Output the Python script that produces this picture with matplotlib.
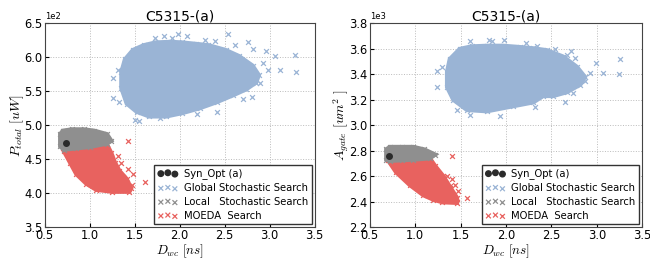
import matplotlib
matplotlib.use("Agg")
import matplotlib.pyplot as plt

plt.rcParams["mathtext.fontset"] = "cm"
plt.rcParams["font.family"] = ["DejaVu Sans"]

# ── colours ──────────────────────────────────────────────────────────────────
C_GLOBAL = "#9ab4d5"
C_LOCAL = "#8f8f8f"
C_MOEDA = "#e8625f"
C_OPT = "#2b2b2b"

LABELS = ["Syn_Opt (a)", "Global Stochastic Search",
          "Local   Stochastic Search", "MOEDA  Search"]

# ── left panel: power vs delay (outline of each dense cloud + loose points) ──
p_global_x = [1.39, 1.48, 1.60, 1.73, 1.90, 2.03, 2.18, 2.32, 2.51, 2.66,
              2.81, 2.88, 2.85, 2.74, 2.59, 2.41, 2.22, 2.03, 1.85, 1.66,
              1.52, 1.41, 1.35, 1.35]
p_global_y = [597, 611, 618, 622, 623, 622, 620, 618, 611, 602,
              588, 574, 563, 553, 544, 534, 525, 518, 513, 513,
              520, 532, 555, 578]
p_global_out_x = [1.72, 1.83, 1.91, 1.98, 2.08, 2.28, 2.39, 2.54, 2.61, 2.76,
                  2.81, 2.96, 3.06, 3.28, 3.11, 3.29, 2.98, 2.93, 2.89, 2.80,
                  2.70, 2.41, 2.19, 1.78, 1.50, 1.33, 1.26, 1.26, 1.31, 1.55]
p_global_out_y = [629, 631, 629, 634, 631, 625, 624, 635, 619, 623,
                  613, 609, 602, 603, 581, 578, 581, 592, 562, 541,
                  538, 520, 517, 510, 508, 534, 540, 570, 582, 506]

p_local_x = [0.67, 0.70, 0.80, 0.93, 1.05, 1.19, 1.24, 1.19, 1.00, 0.85,
             0.71, 0.67]
p_local_y = [487, 492, 494, 494, 492, 487, 477, 473, 468, 466,
             464, 469]

p_moeda_x = [0.70, 0.85, 1.00, 1.19, 1.24, 1.28, 1.33, 1.41, 1.46, 1.44,
             1.25, 1.07, 0.96, 0.85, 0.78, 0.71]
p_moeda_y = [466, 468, 469, 472, 459, 445, 433, 421, 407, 402,
             402, 405, 414, 428, 445, 462]
p_moeda_out_x = [1.43, 1.61, 1.31, 1.35, 1.43, 1.48, 1.37, 1.39, 1.30, 1.47]
p_moeda_out_y = [477, 417, 454, 445, 435, 428, 424, 414, 438, 412]

p_opt_x = [0.73]
p_opt_y = [474]

# ── right panel: gate area vs delay ──────────────────────────────────────────
a_global_x = [1.38, 1.49, 1.62, 1.79, 1.97, 2.15, 2.30, 2.45, 2.63, 2.78,
              2.87, 2.82, 2.67, 2.52, 2.41, 2.30, 2.08, 1.79, 1.57, 1.42,
              1.35, 1.35]
a_global_y = [3520, 3600, 3620, 3625, 3625, 3615, 3605, 3590, 3540, 3460,
              3380, 3320, 3260, 3230, 3230, 3180, 3150, 3110, 3120, 3200,
              3300, 3420]
a_global_out_x = [1.60, 1.81, 1.85, 1.98, 2.22, 2.34, 2.54, 2.72, 2.67, 2.76,
                  2.99, 3.25, 3.07, 3.24, 2.93, 2.87, 2.74, 2.65, 2.32, 1.93,
                  1.60, 1.46, 1.24, 1.24, 1.29]
a_global_out_y = [3660, 3670, 3665, 3670, 3650, 3620, 3600, 3580, 3550, 3530,
                  3490, 3520, 3410, 3400, 3410, 3350, 3250, 3180, 3140, 3070,
                  3080, 3120, 3300, 3430, 3460]

a_local_x = [0.68, 0.72, 0.85, 0.98, 1.10, 1.22, 1.16, 0.98, 0.85, 0.72,
             0.68]
a_local_y = [2810, 2830, 2830, 2830, 2810, 2770, 2740, 2730, 2725, 2720,
             2730]

a_moeda_x = [0.70, 0.85, 1.00, 1.16, 1.22, 1.31, 1.38, 1.46, 1.46, 1.30,
             1.20, 1.09, 0.94, 0.79]
a_moeda_y = [2725, 2730, 2735, 2742, 2680, 2600, 2520, 2430, 2390, 2395,
             2415, 2450, 2530, 2630]
a_moeda_out_x = [1.40, 1.57, 1.35, 1.40, 1.38, 1.44, 1.32, 1.47]
a_moeda_out_y = [2760, 2430, 2600, 2580, 2510, 2530, 2480, 2480]

a_opt_x = [0.71]
a_opt_y = [2760]


def draw_cloud(ax, xs, ys, out_x, out_y, color, label, z):
    ax.fill(xs, ys, color=color, lw=3, zorder=z)
    ax.scatter(list(xs) + list(out_x), list(ys) + list(out_y), marker="x",
               s=12, lw=0.9, color=color, label=label, zorder=z)


def panel(ax, gx, gy, gox, goy, lx, ly, mx, my, mox, moy, ox, oy,
          ylim, yticks, ylabel):
    draw_cloud(ax, gx, gy, gox, goy, C_GLOBAL, LABELS[1], 2)
    draw_cloud(ax, mx, my, mox, moy, C_MOEDA, LABELS[3], 3)
    draw_cloud(ax, lx, ly, [], [], C_LOCAL, LABELS[2], 4)
    ax.scatter(ox, oy, marker="o", s=16, color=C_OPT, label=LABELS[0], zorder=5)

    ax.set_xlim(0.5, 3.5)
    ax.set_ylim(*ylim)
    ax.set_xticks([0.5, 1.0, 1.5, 2.0, 2.5, 3.0, 3.5])
    ax.set_yticks(yticks)
    ax.ticklabel_format(axis="y", style="sci", scilimits=(0, 0))
    ax.yaxis.get_offset_text().set_fontsize(6)
    ax.tick_params(labelsize=8.3, length=3, direction="in", pad=1.5)
    ax.grid(True, ls=":", color="#bbbbbb", lw=0.7)
    ax.set_axisbelow(True)
    for s in ax.spines.values():
        s.set_color("#444444")
    ax.set_title("C5315-(a)", fontsize=10, pad=2)
    ax.set_xlabel(r"$D_{wc}\ [ns]$", fontsize=9.5, labelpad=0)
    ax.set_ylabel(ylabel, fontsize=10)
    ax.yaxis.set_label_coords(-0.07, 0.5)

    h, l = ax.get_legend_handles_labels()
    order = [l.index(t) for t in LABELS]
    ax.legend([h[i] for i in order], [l[i] for i in order], loc="lower right",
              scatterpoints=3, fontsize=7.2, fancybox=False, framealpha=1,
              edgecolor="#333333", borderaxespad=0.3, handletextpad=0.6,
              labelspacing=0.38, borderpad=0.35, handlelength=2.0)


fig = plt.figure(figsize=(6.5, 2.61), dpi=100)
ax1 = fig.add_axes([0.069, 0.13, 0.415, 0.78])
ax2 = fig.add_axes([0.569, 0.13, 0.419, 0.78])

panel(ax1, p_global_x, p_global_y, p_global_out_x, p_global_out_y,
      p_local_x, p_local_y, p_moeda_x, p_moeda_y, p_moeda_out_x, p_moeda_out_y,
      p_opt_x, p_opt_y, (350, 650), [350, 400, 450, 500, 550, 600, 650],
      r"$P_{total}\ [uW]$")
panel(ax2, a_global_x, a_global_y, a_global_out_x, a_global_out_y,
      a_local_x, a_local_y, a_moeda_x, a_moeda_y, a_moeda_out_x, a_moeda_out_y,
      a_opt_x, a_opt_y, (2200, 3800),
      [2200, 2400, 2600, 2800, 3000, 3200, 3400, 3600, 3800],
      r"$A_{gate}\ [um^2\ ]$")

fig.savefig("out.png", dpi=100)
